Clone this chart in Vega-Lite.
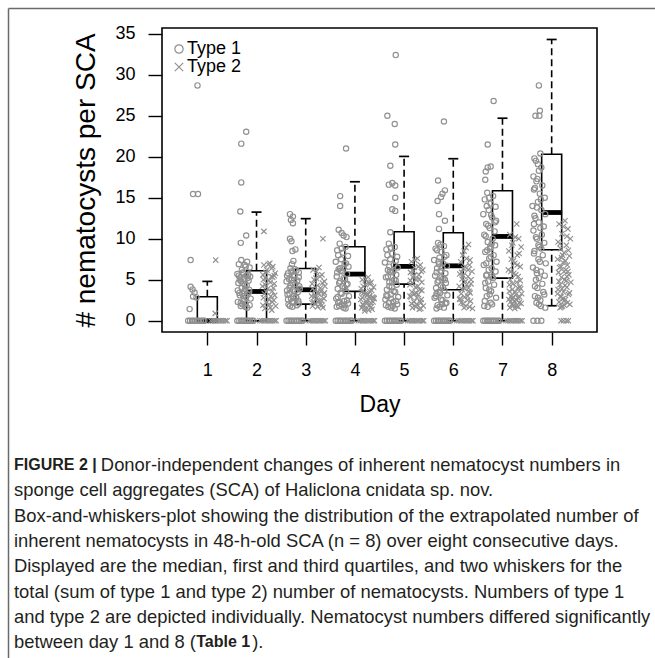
{
  "$schema": "https://vega.github.io/schema/vega-lite/v6.json",
  "width": 435,
  "height": 304,
  "autosize": {"type": "none"},
  "padding": {"left": 162, "top": 28, "right": 58, "bottom": 326},
  "background": "white",
  "title": {
    "text": ["FIGURE 2 |", "\u200b\u00a0\u00a0\u00a0\u00a0\u00a0\u00a0\u00a0\u00a0\u00a0\u00a0\u00a0\u00a0\u00a0\u00a0\u00a0\u00a0\u00a0\u00a0\u00a0\u00a0\u00a0\u00a0\u00a0\u00a0\u00a0\u00a0\u00a0\u00a0\u00a0\u00a0\u00a0\u00a0\u00a0\u00a0\u00a0\u00a0\u00a0\u00a0\u00a0\u00a0\u00a0Table 1"],
    "subtitle": [
      "\u200b\u00a0\u00a0\u00a0\u00a0\u00a0\u00a0\u00a0\u00a0\u00a0\u00a0\u00a0\u00a0\u00a0\u00a0\u00a0\u00a0\u00a0Donor-independent changes of inherent nematocyst numbers in",
      "sponge cell aggregates (SCA) of Haliclona cnidata sp. nov.",
      "Box-and-whiskers-plot showing the distribution of the extrapolated number of",
      "inherent nematocysts in 48-h-old SCA (n = 8) over eight consecutive days.",
      "Displayed are the median, first and third quartiles, and two whiskers for the",
      "total (sum of type 1 and type 2) number of nematocysts. Numbers of type 1",
      "and type 2 are depicted individually. Nematocyst numbers differed significantly",
      "between day 1 and 8 (\u00a0\u00a0\u00a0\u00a0\u00a0\u00a0\u00a0\u00a0\u00a0\u00a0\u00a0)."
    ],
    "orient": "bottom",
    "anchor": "start",
    "frame": "group",
    "baseline": "top",
    "dx": -148,
    "offset": -221,
    "font": "Liberation Sans",
    "fontSize": 16,
    "fontWeight": "bold",
    "color": "#231f20",
    "lineHeight": 177.1,
    "subtitleFont": "Liberation Sans",
    "subtitleFontSize": 18.4,
    "subtitleFontWeight": "normal",
    "subtitleColor": "#231f20",
    "subtitleLineHeight": 25.3,
    "subtitlePadding": -194
  },
  "config": {
    "font": "Liberation Sans",
    "view": {"stroke": "black", "strokeWidth": 1.6},
    "axis": {"grid": false, "domain": false, "tickColor": "black", "tickWidth": 1.4, "labelColor": "black", "titleColor": "black", "labelFont": "Liberation Sans", "titleFont": "Liberation Sans", "titleFontWeight": "normal"},
    "axisX": {"tickSize": 13, "labelFontSize": 18, "labelPadding": 16, "titleFontSize": 23, "titlePadding": 14},
    "axisY": {"tickSize": 14, "labelFontSize": 18, "labelPadding": 13, "titleFontSize": 28, "titlePadding": 14}
  },
  "datasets": {
    "box": [
      {"day": 1, "lo": 0, "q1": 0, "med": 0, "q3": 2.93, "hi": 4.8},
      {"day": 2, "lo": 0, "q1": 0, "med": 3.57, "q3": 6.1, "hi": 13.25},
      {"day": 3, "lo": 0, "q1": 2.03, "med": 3.78, "q3": 6.38, "hi": 12.45},
      {"day": 4, "lo": 0, "q1": 3.58, "med": 5.69, "q3": 9.02, "hi": 16.95},
      {"day": 5, "lo": 0, "q1": 4.47, "med": 6.63, "q3": 10.85, "hi": 20.04},
      {"day": 6, "lo": 0, "q1": 3.78, "med": 6.7, "q3": 10.73, "hi": 19.76},
      {"day": 7, "lo": 0, "q1": 5.2, "med": 10.28, "q3": 15.85, "hi": 24.7},
      {"day": 8, "lo": 1.83, "q1": 8.66, "med": 13.2, "q3": 20.3, "hi": 34.3}
    ],
    "pts": [
      {"t":"Type 1","x":0.8,"v":28.7},{"t":"Type 1","x":0.71,"v":15.45},{"t":"Type 1","x":0.81,"v":15.45},{"t":"Type 1","x":0.66,"v":7.4},{"t":"Type 1","x":0.66,"v":4.15},{"t":"Type 1","x":0.7,"v":3.82},{"t":"Type 1","x":0.74,"v":3.45},{"t":"Type 1","x":0.71,"v":2.97},{"t":"Type 1","x":0.78,"v":2.85},{"t":"Type 1","x":0.64,"v":1.42},
      {"t":"Type 1","x":0.61,"v":0},{"t":"Type 1","x":0.65,"v":0},{"t":"Type 1","x":0.69,"v":0},{"t":"Type 1","x":0.72,"v":0},{"t":"Type 1","x":0.76,"v":0},{"t":"Type 1","x":0.8,"v":0},{"t":"Type 1","x":0.83,"v":0},{"t":"Type 1","x":0.87,"v":0},{"t":"Type 1","x":0.91,"v":0},{"t":"Type 1","x":0.94,"v":0},
      {"t":"Type 2","x":1.17,"v":7.4},{"t":"Type 2","x":1.16,"v":0.9},
      {"t":"Type 2","x":1.07,"v":0},{"t":"Type 2","x":1.11,"v":0},{"t":"Type 2","x":1.15,"v":0},{"t":"Type 2","x":1.18,"v":0},{"t":"Type 2","x":1.22,"v":0},{"t":"Type 2","x":1.26,"v":0},{"t":"Type 2","x":1.29,"v":0},{"t":"Type 2","x":1.33,"v":0},{"t":"Type 2","x":1.37,"v":0},{"t":"Type 2","x":1.4,"v":0},

      {"t":"Type 1","x":1.79,"v":23.05},{"t":"Type 1","x":1.69,"v":21.6},{"t":"Type 1","x":1.69,"v":16.87},{"t":"Type 1","x":1.67,"v":13.33},{"t":"Type 1","x":1.79,"v":10.4},{"t":"Type 1","x":1.68,"v":9.5},
      {"t":"Type 1","x":1.69,"v":7.4},{"t":"Type 1","x":1.81,"v":7.2},{"t":"Type 1","x":1.64,"v":6.9},{"t":"Type 1","x":1.76,"v":6.8},{"t":"Type 1","x":1.86,"v":6.5},{"t":"Type 1","x":1.72,"v":5.9},{"t":"Type 1","x":1.61,"v":5.7},{"t":"Type 1","x":1.79,"v":5.5},{"t":"Type 1","x":1.87,"v":5.4},{"t":"Type 1","x":1.67,"v":5.3},{"t":"Type 1","x":1.74,"v":5.1},{"t":"Type 1","x":1.84,"v":4.9},{"t":"Type 1","x":1.63,"v":4.6},{"t":"Type 1","x":1.8,"v":4.3},{"t":"Type 1","x":1.7,"v":4.0},{"t":"Type 1","x":1.85,"v":3.8},{"t":"Type 1","x":1.75,"v":3.6},{"t":"Type 1","x":1.65,"v":3.4},{"t":"Type 1","x":1.82,"v":3.2},{"t":"Type 1","x":1.73,"v":3.0},{"t":"Type 1","x":1.88,"v":2.7},{"t":"Type 1","x":1.62,"v":2.3},{"t":"Type 1","x":1.78,"v":2.1},{"t":"Type 1","x":1.86,"v":1.9},{"t":"Type 1","x":1.68,"v":1.8},{"t":"Type 1","x":1.81,"v":1.6},{"t":"Type 1","x":1.71,"v":2.0},{"t":"Type 1","x":1.83,"v":5.6},{"t":"Type 1","x":1.66,"v":5.0},{"t":"Type 1","x":1.77,"v":3.9},
      {"t":"Type 1","x":1.73,"v":5.8},{"t":"Type 1","x":1.64,"v":5.5},{"t":"Type 1","x":1.82,"v":5.2},{"t":"Type 1","x":1.69,"v":4.8},{"t":"Type 1","x":1.76,"v":4.4},{"t":"Type 1","x":1.62,"v":3.7},{"t":"Type 1","x":1.85,"v":3.5},{"t":"Type 1","x":1.71,"v":3.3},{"t":"Type 1","x":1.66,"v":3.1},{"t":"Type 1","x":1.79,"v":2.9},{"t":"Type 1","x":1.74,"v":2.5},{"t":"Type 1","x":1.68,"v":2.2},{"t":"Type 1","x":1.77,"v":1.7},{"t":"Type 1","x":1.7,"v":6.2},{"t":"Type 1","x":1.78,"v":6.6},
      {"t":"Type 1","x":1.61,"v":0},{"t":"Type 1","x":1.65,"v":0},{"t":"Type 1","x":1.69,"v":0},{"t":"Type 1","x":1.72,"v":0},{"t":"Type 1","x":1.76,"v":0},{"t":"Type 1","x":1.8,"v":0},{"t":"Type 1","x":1.83,"v":0},{"t":"Type 1","x":1.87,"v":0},{"t":"Type 1","x":1.91,"v":0},{"t":"Type 1","x":1.94,"v":0},
      {"t":"Type 2","x":2.15,"v":10.9},
      {"t":"Type 2","x":2.27,"v":7.0},{"t":"Type 2","x":2.15,"v":6.8},{"t":"Type 2","x":2.33,"v":6.6},{"t":"Type 2","x":2.21,"v":6.2},{"t":"Type 2","x":2.38,"v":5.8},{"t":"Type 2","x":2.13,"v":5.6},{"t":"Type 2","x":2.3,"v":5.4},{"t":"Type 2","x":2.18,"v":5.2},{"t":"Type 2","x":2.25,"v":4.9},{"t":"Type 2","x":2.36,"v":4.5},{"t":"Type 2","x":2.12,"v":4.2},{"t":"Type 2","x":2.23,"v":3.9},{"t":"Type 2","x":2.32,"v":3.6},{"t":"Type 2","x":2.16,"v":3.3},{"t":"Type 2","x":2.29,"v":3.0},{"t":"Type 2","x":2.14,"v":2.8},{"t":"Type 2","x":2.35,"v":2.5},{"t":"Type 2","x":2.2,"v":2.2},{"t":"Type 2","x":2.26,"v":2.0},{"t":"Type 2","x":2.39,"v":1.8},{"t":"Type 2","x":2.17,"v":1.5},{"t":"Type 2","x":2.31,"v":1.3},
      {"t":"Type 2","x":2.24,"v":6.9},{"t":"Type 2","x":2.31,"v":6.4},{"t":"Type 2","x":2.19,"v":5.9},{"t":"Type 2","x":2.36,"v":5.5},{"t":"Type 2","x":2.14,"v":5.0},{"t":"Type 2","x":2.28,"v":4.7},{"t":"Type 2","x":2.34,"v":4.0},{"t":"Type 2","x":2.2,"v":3.5},{"t":"Type 2","x":2.37,"v":3.1},{"t":"Type 2","x":2.25,"v":2.6},{"t":"Type 2","x":2.32,"v":2.3},{"t":"Type 2","x":2.13,"v":1.9},{"t":"Type 2","x":2.28,"v":1.6},{"t":"Type 2","x":2.18,"v":4.4},{"t":"Type 2","x":2.33,"v":5.3},
      {"t":"Type 2","x":2.07,"v":0},{"t":"Type 2","x":2.11,"v":0},{"t":"Type 2","x":2.15,"v":0},{"t":"Type 2","x":2.18,"v":0},{"t":"Type 2","x":2.22,"v":0},{"t":"Type 2","x":2.26,"v":0},{"t":"Type 2","x":2.29,"v":0},{"t":"Type 2","x":2.33,"v":0},{"t":"Type 2","x":2.37,"v":0},{"t":"Type 2","x":2.4,"v":0},

      {"t":"Type 1","x":2.68,"v":13.0},{"t":"Type 1","x":2.74,"v":12.7},{"t":"Type 1","x":2.7,"v":12.3},{"t":"Type 1","x":2.74,"v":11.9},{"t":"Type 1","x":2.68,"v":10.0},{"t":"Type 1","x":2.71,"v":9.7},{"t":"Type 1","x":2.79,"v":8.7},{"t":"Type 1","x":2.73,"v":8.5},{"t":"Type 1","x":2.75,"v":7.3},{"t":"Type 1","x":2.72,"v":6.9},
      {"t":"Type 1","x":2.69,"v":6.4},{"t":"Type 1","x":2.81,"v":6.1},{"t":"Type 1","x":2.64,"v":5.8},{"t":"Type 1","x":2.76,"v":5.6},{"t":"Type 1","x":2.86,"v":5.3},{"t":"Type 1","x":2.72,"v":5.0},{"t":"Type 1","x":2.61,"v":4.8},{"t":"Type 1","x":2.79,"v":4.5},{"t":"Type 1","x":2.87,"v":4.2},{"t":"Type 1","x":2.67,"v":4.0},{"t":"Type 1","x":2.74,"v":3.8},{"t":"Type 1","x":2.84,"v":3.5},{"t":"Type 1","x":2.63,"v":3.2},{"t":"Type 1","x":2.8,"v":2.9},{"t":"Type 1","x":2.7,"v":2.7},{"t":"Type 1","x":2.85,"v":2.4},{"t":"Type 1","x":2.75,"v":2.2},{"t":"Type 1","x":2.65,"v":2.0},{"t":"Type 1","x":2.82,"v":1.9},{"t":"Type 1","x":2.73,"v":1.7},{"t":"Type 1","x":2.88,"v":3.9},{"t":"Type 1","x":2.62,"v":5.5},{"t":"Type 1","x":2.78,"v":6.3},{"t":"Type 1","x":2.86,"v":2.1},
      {"t":"Type 1","x":2.71,"v":6.0},{"t":"Type 1","x":2.77,"v":5.4},{"t":"Type 1","x":2.66,"v":5.1},{"t":"Type 1","x":2.73,"v":4.6},{"t":"Type 1","x":2.69,"v":4.3},{"t":"Type 1","x":2.78,"v":3.6},{"t":"Type 1","x":2.67,"v":3.3},{"t":"Type 1","x":2.75,"v":3.0},{"t":"Type 1","x":2.64,"v":2.6},{"t":"Type 1","x":2.72,"v":2.3},{"t":"Type 1","x":2.68,"v":1.8},{"t":"Type 1","x":2.83,"v":4.9},{"t":"Type 1","x":2.86,"v":5.9},{"t":"Type 1","x":2.81,"v":2.8},{"t":"Type 1","x":2.62,"v":3.7},
      {"t":"Type 1","x":2.61,"v":0},{"t":"Type 1","x":2.65,"v":0},{"t":"Type 1","x":2.69,"v":0},{"t":"Type 1","x":2.72,"v":0},{"t":"Type 1","x":2.76,"v":0},{"t":"Type 1","x":2.8,"v":0},{"t":"Type 1","x":2.83,"v":0},{"t":"Type 1","x":2.87,"v":0},{"t":"Type 1","x":2.91,"v":0},{"t":"Type 1","x":2.94,"v":0},
      {"t":"Type 2","x":3.35,"v":10.0},
      {"t":"Type 2","x":3.27,"v":6.5},{"t":"Type 2","x":3.15,"v":6.2},{"t":"Type 2","x":3.33,"v":5.6},{"t":"Type 2","x":3.21,"v":5.2},{"t":"Type 2","x":3.38,"v":4.8},{"t":"Type 2","x":3.13,"v":4.5},{"t":"Type 2","x":3.3,"v":4.0},{"t":"Type 2","x":3.18,"v":3.7},{"t":"Type 2","x":3.25,"v":3.5},{"t":"Type 2","x":3.36,"v":3.2},{"t":"Type 2","x":3.12,"v":3.0},{"t":"Type 2","x":3.23,"v":2.8},{"t":"Type 2","x":3.32,"v":2.5},{"t":"Type 2","x":3.16,"v":2.3},{"t":"Type 2","x":3.29,"v":2.0},{"t":"Type 2","x":3.14,"v":1.8},{"t":"Type 2","x":3.35,"v":1.6},{"t":"Type 2","x":3.2,"v":2.1},{"t":"Type 2","x":3.26,"v":3.3},{"t":"Type 2","x":3.39,"v":4.2},
      {"t":"Type 2","x":3.22,"v":6.0},{"t":"Type 2","x":3.29,"v":5.4},{"t":"Type 2","x":3.17,"v":5.0},{"t":"Type 2","x":3.34,"v":4.6},{"t":"Type 2","x":3.24,"v":4.3},{"t":"Type 2","x":3.14,"v":3.9},{"t":"Type 2","x":3.31,"v":3.6},{"t":"Type 2","x":3.19,"v":3.1},{"t":"Type 2","x":3.37,"v":2.7},{"t":"Type 2","x":3.27,"v":2.4},{"t":"Type 2","x":3.13,"v":2.2},{"t":"Type 2","x":3.33,"v":1.9},{"t":"Type 2","x":3.24,"v":1.7},{"t":"Type 2","x":3.18,"v":2.9},{"t":"Type 2","x":3.38,"v":3.4},
      {"t":"Type 2","x":3.07,"v":0},{"t":"Type 2","x":3.11,"v":0},{"t":"Type 2","x":3.15,"v":0},{"t":"Type 2","x":3.18,"v":0},{"t":"Type 2","x":3.22,"v":0},{"t":"Type 2","x":3.26,"v":0},{"t":"Type 2","x":3.29,"v":0},{"t":"Type 2","x":3.33,"v":0},{"t":"Type 2","x":3.37,"v":0},{"t":"Type 2","x":3.4,"v":0},

      {"t":"Type 1","x":3.82,"v":21.0},{"t":"Type 1","x":3.7,"v":15.2},{"t":"Type 1","x":3.7,"v":14.0},{"t":"Type 1","x":3.67,"v":11.1},{"t":"Type 1","x":3.73,"v":10.7},{"t":"Type 1","x":3.77,"v":10.4},{"t":"Type 1","x":3.83,"v":10.2},
      {"t":"Type 1","x":3.69,"v":9.4},{"t":"Type 1","x":3.81,"v":9.0},{"t":"Type 1","x":3.64,"v":8.6},{"t":"Type 1","x":3.76,"v":8.3},{"t":"Type 1","x":3.86,"v":7.9},{"t":"Type 1","x":3.72,"v":7.5},{"t":"Type 1","x":3.61,"v":7.2},{"t":"Type 1","x":3.79,"v":6.9},{"t":"Type 1","x":3.87,"v":6.6},{"t":"Type 1","x":3.67,"v":6.3},{"t":"Type 1","x":3.74,"v":6.0},{"t":"Type 1","x":3.84,"v":5.7},{"t":"Type 1","x":3.63,"v":5.4},{"t":"Type 1","x":3.8,"v":5.1},{"t":"Type 1","x":3.7,"v":4.8},{"t":"Type 1","x":3.85,"v":4.5},{"t":"Type 1","x":3.75,"v":4.2},{"t":"Type 1","x":3.65,"v":3.9},{"t":"Type 1","x":3.82,"v":3.6},{"t":"Type 1","x":3.73,"v":3.3},{"t":"Type 1","x":3.88,"v":3.0},{"t":"Type 1","x":3.62,"v":2.7},{"t":"Type 1","x":3.78,"v":2.4},{"t":"Type 1","x":3.86,"v":2.1},{"t":"Type 1","x":3.68,"v":1.8},{"t":"Type 1","x":3.81,"v":1.5},{"t":"Type 1","x":3.71,"v":6.1},{"t":"Type 1","x":3.83,"v":4.4},{"t":"Type 1","x":3.66,"v":2.2},{"t":"Type 1","x":3.77,"v":1.6},
      {"t":"Type 1","x":3.73,"v":8.8},{"t":"Type 1","x":3.66,"v":8.0},{"t":"Type 1","x":3.82,"v":7.0},{"t":"Type 1","x":3.7,"v":6.4},{"t":"Type 1","x":3.64,"v":5.9},{"t":"Type 1","x":3.77,"v":5.2},{"t":"Type 1","x":3.68,"v":4.6},{"t":"Type 1","x":3.79,"v":4.0},{"t":"Type 1","x":3.71,"v":3.4},{"t":"Type 1","x":3.65,"v":2.9},{"t":"Type 1","x":3.84,"v":2.5},{"t":"Type 1","x":3.73,"v":2.0},{"t":"Type 1","x":3.63,"v":1.7},{"t":"Type 1","x":3.79,"v":1.9},{"t":"Type 1","x":3.69,"v":2.3},
      {"t":"Type 1","x":3.61,"v":0},{"t":"Type 1","x":3.65,"v":0},{"t":"Type 1","x":3.69,"v":0},{"t":"Type 1","x":3.72,"v":0},{"t":"Type 1","x":3.76,"v":0},{"t":"Type 1","x":3.8,"v":0},{"t":"Type 1","x":3.83,"v":0},{"t":"Type 1","x":3.87,"v":0},{"t":"Type 1","x":3.91,"v":0},{"t":"Type 1","x":3.94,"v":0},
      {"t":"Type 2","x":4.27,"v":5.3},{"t":"Type 2","x":4.15,"v":5.0},{"t":"Type 2","x":4.33,"v":4.7},{"t":"Type 2","x":4.21,"v":4.4},{"t":"Type 2","x":4.38,"v":4.1},{"t":"Type 2","x":4.13,"v":3.9},{"t":"Type 2","x":4.3,"v":3.6},{"t":"Type 2","x":4.18,"v":3.4},{"t":"Type 2","x":4.25,"v":3.1},{"t":"Type 2","x":4.36,"v":2.9},{"t":"Type 2","x":4.12,"v":2.6},{"t":"Type 2","x":4.23,"v":2.4},{"t":"Type 2","x":4.32,"v":2.2},{"t":"Type 2","x":4.16,"v":2.0},{"t":"Type 2","x":4.29,"v":1.8},{"t":"Type 2","x":4.14,"v":1.6},{"t":"Type 2","x":4.35,"v":1.4},{"t":"Type 2","x":4.2,"v":1.2},{"t":"Type 2","x":4.26,"v":3.2},{"t":"Type 2","x":4.39,"v":2.7},{"t":"Type 2","x":4.17,"v":1.9},{"t":"Type 2","x":4.31,"v":4.5},
      {"t":"Type 2","x":4.22,"v":5.1},{"t":"Type 2","x":4.28,"v":4.6},{"t":"Type 2","x":4.17,"v":4.2},{"t":"Type 2","x":4.34,"v":3.7},{"t":"Type 2","x":4.21,"v":3.3},{"t":"Type 2","x":4.3,"v":3.0},{"t":"Type 2","x":4.15,"v":2.8},{"t":"Type 2","x":4.27,"v":2.5},{"t":"Type 2","x":4.37,"v":2.3},{"t":"Type 2","x":4.24,"v":2.1},{"t":"Type 2","x":4.33,"v":1.7},{"t":"Type 2","x":4.2,"v":1.5},{"t":"Type 2","x":4.28,"v":1.3},{"t":"Type 2","x":4.14,"v":3.5},{"t":"Type 2","x":4.38,"v":2.8},
      {"t":"Type 2","x":4.07,"v":0},{"t":"Type 2","x":4.11,"v":0},{"t":"Type 2","x":4.15,"v":0},{"t":"Type 2","x":4.18,"v":0},{"t":"Type 2","x":4.22,"v":0},{"t":"Type 2","x":4.26,"v":0},{"t":"Type 2","x":4.29,"v":0},{"t":"Type 2","x":4.33,"v":0},{"t":"Type 2","x":4.37,"v":0},{"t":"Type 2","x":4.4,"v":0},

      {"t":"Type 1","x":4.83,"v":32.4},{"t":"Type 1","x":4.66,"v":25.0},{"t":"Type 1","x":4.81,"v":24.0},{"t":"Type 1","x":4.82,"v":21.5},{"t":"Type 1","x":4.72,"v":18.9},{"t":"Type 1","x":4.69,"v":16.6},{"t":"Type 1","x":4.76,"v":16.8},{"t":"Type 1","x":4.82,"v":16.5},{"t":"Type 1","x":4.82,"v":15.0},{"t":"Type 1","x":4.76,"v":13.6},{"t":"Type 1","x":4.82,"v":13.4},{"t":"Type 1","x":4.72,"v":10.8},
      {"t":"Type 1","x":4.69,"v":9.4},{"t":"Type 1","x":4.81,"v":9.0},{"t":"Type 1","x":4.64,"v":8.7},{"t":"Type 1","x":4.76,"v":8.2},{"t":"Type 1","x":4.86,"v":7.8},{"t":"Type 1","x":4.72,"v":7.5},{"t":"Type 1","x":4.61,"v":7.1},{"t":"Type 1","x":4.79,"v":6.8},{"t":"Type 1","x":4.87,"v":6.5},{"t":"Type 1","x":4.67,"v":6.2},{"t":"Type 1","x":4.74,"v":5.9},{"t":"Type 1","x":4.84,"v":5.6},{"t":"Type 1","x":4.63,"v":5.3},{"t":"Type 1","x":4.8,"v":5.0},{"t":"Type 1","x":4.7,"v":4.7},{"t":"Type 1","x":4.85,"v":4.4},{"t":"Type 1","x":4.75,"v":4.1},{"t":"Type 1","x":4.65,"v":3.8},{"t":"Type 1","x":4.82,"v":3.5},{"t":"Type 1","x":4.73,"v":3.2},{"t":"Type 1","x":4.88,"v":2.9},{"t":"Type 1","x":4.62,"v":2.6},{"t":"Type 1","x":4.78,"v":2.3},{"t":"Type 1","x":4.86,"v":2.0},{"t":"Type 1","x":4.68,"v":1.7},{"t":"Type 1","x":4.81,"v":1.5},{"t":"Type 1","x":4.71,"v":6.0},{"t":"Type 1","x":4.83,"v":4.9},{"t":"Type 1","x":4.66,"v":3.0},{"t":"Type 1","x":4.77,"v":1.8},
      {"t":"Type 1","x":4.73,"v":8.9},{"t":"Type 1","x":4.66,"v":8.0},{"t":"Type 1","x":4.83,"v":7.3},{"t":"Type 1","x":4.7,"v":6.6},{"t":"Type 1","x":4.78,"v":6.0},{"t":"Type 1","x":4.67,"v":5.4},{"t":"Type 1","x":4.76,"v":4.8},{"t":"Type 1","x":4.7,"v":4.2},{"t":"Type 1","x":4.79,"v":3.6},{"t":"Type 1","x":4.64,"v":3.1},{"t":"Type 1","x":4.73,"v":2.7},{"t":"Type 1","x":4.69,"v":2.2},{"t":"Type 1","x":4.74,"v":1.6},{"t":"Type 1","x":4.63,"v":1.9},{"t":"Type 1","x":4.84,"v":2.4},
      {"t":"Type 1","x":4.61,"v":0},{"t":"Type 1","x":4.65,"v":0},{"t":"Type 1","x":4.69,"v":0},{"t":"Type 1","x":4.72,"v":0},{"t":"Type 1","x":4.76,"v":0},{"t":"Type 1","x":4.8,"v":0},{"t":"Type 1","x":4.83,"v":0},{"t":"Type 1","x":4.87,"v":0},{"t":"Type 1","x":4.91,"v":0},{"t":"Type 1","x":4.94,"v":0},
      {"t":"Type 2","x":5.27,"v":7.6},{"t":"Type 2","x":5.15,"v":7.2},{"t":"Type 2","x":5.33,"v":6.8},{"t":"Type 2","x":5.21,"v":6.5},{"t":"Type 2","x":5.38,"v":6.2},{"t":"Type 2","x":5.13,"v":5.9},{"t":"Type 2","x":5.3,"v":5.6},{"t":"Type 2","x":5.18,"v":5.3},{"t":"Type 2","x":5.25,"v":5.0},{"t":"Type 2","x":5.36,"v":4.7},{"t":"Type 2","x":5.12,"v":4.4},{"t":"Type 2","x":5.23,"v":4.1},{"t":"Type 2","x":5.32,"v":3.8},{"t":"Type 2","x":5.16,"v":3.5},{"t":"Type 2","x":5.29,"v":3.2},{"t":"Type 2","x":5.14,"v":2.9},{"t":"Type 2","x":5.35,"v":2.6},{"t":"Type 2","x":5.2,"v":2.3},{"t":"Type 2","x":5.26,"v":2.0},{"t":"Type 2","x":5.39,"v":1.8},{"t":"Type 2","x":5.17,"v":1.6},{"t":"Type 2","x":5.31,"v":1.4},{"t":"Type 2","x":5.13,"v":4.9},{"t":"Type 2","x":5.24,"v":3.4},{"t":"Type 2","x":5.34,"v":2.2},{"t":"Type 2","x":5.19,"v":6.0},
      {"t":"Type 2","x":5.22,"v":7.4},{"t":"Type 2","x":5.29,"v":6.6},{"t":"Type 2","x":5.35,"v":6.0},{"t":"Type 2","x":5.2,"v":5.5},{"t":"Type 2","x":5.31,"v":5.1},{"t":"Type 2","x":5.17,"v":4.6},{"t":"Type 2","x":5.28,"v":4.2},{"t":"Type 2","x":5.36,"v":3.7},{"t":"Type 2","x":5.21,"v":3.3},{"t":"Type 2","x":5.26,"v":2.8},{"t":"Type 2","x":5.32,"v":2.4},{"t":"Type 2","x":5.15,"v":2.1},{"t":"Type 2","x":5.24,"v":1.7},{"t":"Type 2","x":5.34,"v":1.5},{"t":"Type 2","x":5.12,"v":3.0},
      {"t":"Type 2","x":5.07,"v":0},{"t":"Type 2","x":5.11,"v":0},{"t":"Type 2","x":5.15,"v":0},{"t":"Type 2","x":5.18,"v":0},{"t":"Type 2","x":5.22,"v":0},{"t":"Type 2","x":5.26,"v":0},{"t":"Type 2","x":5.29,"v":0},{"t":"Type 2","x":5.33,"v":0},{"t":"Type 2","x":5.37,"v":0},{"t":"Type 2","x":5.4,"v":0},

      {"t":"Type 1","x":5.81,"v":24.3},{"t":"Type 1","x":5.69,"v":17.1},{"t":"Type 1","x":5.83,"v":15.9},{"t":"Type 1","x":5.78,"v":15.5},{"t":"Type 1","x":5.75,"v":15.1},{"t":"Type 1","x":5.68,"v":14.6},{"t":"Type 1","x":5.71,"v":13.0},{"t":"Type 1","x":5.83,"v":12.2},{"t":"Type 1","x":5.71,"v":11.2},
      {"t":"Type 1","x":5.69,"v":9.5},{"t":"Type 1","x":5.81,"v":9.1},{"t":"Type 1","x":5.64,"v":8.8},{"t":"Type 1","x":5.76,"v":8.4},{"t":"Type 1","x":5.86,"v":8.0},{"t":"Type 1","x":5.72,"v":7.7},{"t":"Type 1","x":5.61,"v":7.4},{"t":"Type 1","x":5.79,"v":7.0},{"t":"Type 1","x":5.87,"v":6.7},{"t":"Type 1","x":5.67,"v":6.4},{"t":"Type 1","x":5.74,"v":6.1},{"t":"Type 1","x":5.84,"v":5.8},{"t":"Type 1","x":5.63,"v":5.5},{"t":"Type 1","x":5.8,"v":5.2},{"t":"Type 1","x":5.7,"v":4.9},{"t":"Type 1","x":5.85,"v":4.6},{"t":"Type 1","x":5.75,"v":4.3},{"t":"Type 1","x":5.65,"v":4.0},{"t":"Type 1","x":5.82,"v":3.7},{"t":"Type 1","x":5.73,"v":3.4},{"t":"Type 1","x":5.88,"v":3.1},{"t":"Type 1","x":5.62,"v":2.8},{"t":"Type 1","x":5.78,"v":2.5},{"t":"Type 1","x":5.86,"v":2.2},{"t":"Type 1","x":5.68,"v":1.9},{"t":"Type 1","x":5.81,"v":1.6},{"t":"Type 1","x":5.71,"v":6.9},{"t":"Type 1","x":5.83,"v":5.0},{"t":"Type 1","x":5.66,"v":3.3},{"t":"Type 1","x":5.77,"v":2.0},
      {"t":"Type 1","x":5.74,"v":9.3},{"t":"Type 1","x":5.67,"v":8.6},{"t":"Type 1","x":5.82,"v":7.8},{"t":"Type 1","x":5.7,"v":7.2},{"t":"Type 1","x":5.77,"v":6.5},{"t":"Type 1","x":5.66,"v":5.9},{"t":"Type 1","x":5.76,"v":5.3},{"t":"Type 1","x":5.68,"v":4.7},{"t":"Type 1","x":5.79,"v":4.1},{"t":"Type 1","x":5.7,"v":3.5},{"t":"Type 1","x":5.65,"v":3.0},{"t":"Type 1","x":5.75,"v":2.6},{"t":"Type 1","x":5.84,"v":2.1},{"t":"Type 1","x":5.72,"v":1.7},{"t":"Type 1","x":5.66,"v":1.5},
      {"t":"Type 1","x":5.61,"v":0},{"t":"Type 1","x":5.65,"v":0},{"t":"Type 1","x":5.69,"v":0},{"t":"Type 1","x":5.72,"v":0},{"t":"Type 1","x":5.76,"v":0},{"t":"Type 1","x":5.8,"v":0},{"t":"Type 1","x":5.83,"v":0},{"t":"Type 1","x":5.87,"v":0},{"t":"Type 1","x":5.91,"v":0},{"t":"Type 1","x":5.94,"v":0},
      {"t":"Type 2","x":6.31,"v":9.3},{"t":"Type 2","x":6.22,"v":8.5},{"t":"Type 2","x":6.27,"v":7.6},{"t":"Type 2","x":6.15,"v":7.2},{"t":"Type 2","x":6.33,"v":6.8},{"t":"Type 2","x":6.21,"v":6.4},{"t":"Type 2","x":6.38,"v":6.0},{"t":"Type 2","x":6.13,"v":5.7},{"t":"Type 2","x":6.3,"v":5.4},{"t":"Type 2","x":6.18,"v":5.1},{"t":"Type 2","x":6.25,"v":4.8},{"t":"Type 2","x":6.36,"v":4.5},{"t":"Type 2","x":6.12,"v":4.2},{"t":"Type 2","x":6.23,"v":3.9},{"t":"Type 2","x":6.32,"v":3.6},{"t":"Type 2","x":6.16,"v":3.3},{"t":"Type 2","x":6.29,"v":3.0},{"t":"Type 2","x":6.14,"v":2.7},{"t":"Type 2","x":6.35,"v":2.4},{"t":"Type 2","x":6.2,"v":2.1},{"t":"Type 2","x":6.26,"v":1.8},{"t":"Type 2","x":6.39,"v":1.5},{"t":"Type 2","x":6.17,"v":5.9},{"t":"Type 2","x":6.31,"v":4.0},{"t":"Type 2","x":6.13,"v":2.6},
      {"t":"Type 2","x":6.26,"v":8.9},{"t":"Type 2","x":6.19,"v":8.0},{"t":"Type 2","x":6.34,"v":7.4},{"t":"Type 2","x":6.24,"v":6.6},{"t":"Type 2","x":6.3,"v":6.2},{"t":"Type 2","x":6.2,"v":5.5},{"t":"Type 2","x":6.36,"v":5.0},{"t":"Type 2","x":6.27,"v":4.4},{"t":"Type 2","x":6.18,"v":3.8},{"t":"Type 2","x":6.34,"v":3.4},{"t":"Type 2","x":6.23,"v":2.9},{"t":"Type 2","x":6.29,"v":2.5},{"t":"Type 2","x":6.16,"v":2.2},{"t":"Type 2","x":6.33,"v":1.7},{"t":"Type 2","x":6.22,"v":1.6},
      {"t":"Type 2","x":6.07,"v":0},{"t":"Type 2","x":6.11,"v":0},{"t":"Type 2","x":6.15,"v":0},{"t":"Type 2","x":6.18,"v":0},{"t":"Type 2","x":6.22,"v":0},{"t":"Type 2","x":6.26,"v":0},{"t":"Type 2","x":6.29,"v":0},{"t":"Type 2","x":6.33,"v":0},{"t":"Type 2","x":6.37,"v":0},{"t":"Type 2","x":6.4,"v":0},

      {"t":"Type 1","x":6.82,"v":26.8},{"t":"Type 1","x":6.7,"v":21.5},{"t":"Type 1","x":6.76,"v":18.8},{"t":"Type 1","x":6.7,"v":18.7},{"t":"Type 1","x":6.66,"v":18.2},{"t":"Type 1","x":6.65,"v":17.2},
      {"t":"Type 1","x":6.69,"v":15.6},{"t":"Type 1","x":6.81,"v":15.2},{"t":"Type 1","x":6.64,"v":14.8},{"t":"Type 1","x":6.76,"v":14.3},{"t":"Type 1","x":6.86,"v":13.9},{"t":"Type 1","x":6.72,"v":13.5},{"t":"Type 1","x":6.61,"v":13.0},{"t":"Type 1","x":6.79,"v":12.6},{"t":"Type 1","x":6.87,"v":12.2},{"t":"Type 1","x":6.67,"v":11.8},{"t":"Type 1","x":6.74,"v":11.3},{"t":"Type 1","x":6.84,"v":10.9},{"t":"Type 1","x":6.63,"v":10.5},{"t":"Type 1","x":6.8,"v":10.0},{"t":"Type 1","x":6.7,"v":9.6},{"t":"Type 1","x":6.85,"v":9.2},{"t":"Type 1","x":6.75,"v":8.8},{"t":"Type 1","x":6.65,"v":8.4},{"t":"Type 1","x":6.82,"v":8.0},{"t":"Type 1","x":6.73,"v":7.6},{"t":"Type 1","x":6.88,"v":7.2},{"t":"Type 1","x":6.62,"v":6.8},{"t":"Type 1","x":6.78,"v":6.4},{"t":"Type 1","x":6.86,"v":6.0},{"t":"Type 1","x":6.68,"v":5.6},{"t":"Type 1","x":6.81,"v":5.2},{"t":"Type 1","x":6.71,"v":4.8},{"t":"Type 1","x":6.83,"v":4.4},{"t":"Type 1","x":6.66,"v":4.0},{"t":"Type 1","x":6.77,"v":3.6},{"t":"Type 1","x":6.74,"v":3.2},{"t":"Type 1","x":6.87,"v":2.8},{"t":"Type 1","x":6.64,"v":2.4},{"t":"Type 1","x":6.79,"v":2.0},{"t":"Type 1","x":6.7,"v":1.7},{"t":"Type 1","x":6.85,"v":12.0},{"t":"Type 1","x":6.75,"v":9.0},{"t":"Type 1","x":6.67,"v":5.5},
      {"t":"Type 1","x":6.73,"v":15.0},{"t":"Type 1","x":6.68,"v":14.0},{"t":"Type 1","x":6.77,"v":12.9},{"t":"Type 1","x":6.71,"v":11.6},{"t":"Type 1","x":6.66,"v":10.3},{"t":"Type 1","x":6.78,"v":9.4},{"t":"Type 1","x":6.69,"v":8.6},{"t":"Type 1","x":6.76,"v":7.8},{"t":"Type 1","x":6.67,"v":7.0},{"t":"Type 1","x":6.72,"v":6.2},{"t":"Type 1","x":6.79,"v":5.4},{"t":"Type 1","x":6.65,"v":4.6},{"t":"Type 1","x":6.73,"v":3.8},{"t":"Type 1","x":6.68,"v":3.0},{"t":"Type 1","x":6.76,"v":2.2},{"t":"Type 1","x":6.63,"v":1.8},
      {"t":"Type 1","x":6.61,"v":0},{"t":"Type 1","x":6.65,"v":0},{"t":"Type 1","x":6.69,"v":0},{"t":"Type 1","x":6.72,"v":0},{"t":"Type 1","x":6.76,"v":0},{"t":"Type 1","x":6.8,"v":0},{"t":"Type 1","x":6.83,"v":0},{"t":"Type 1","x":6.87,"v":0},{"t":"Type 1","x":6.91,"v":0},{"t":"Type 1","x":6.94,"v":0},
      {"t":"Type 2","x":7.29,"v":11.8},{"t":"Type 2","x":7.15,"v":10.5},{"t":"Type 2","x":7.33,"v":10.0},{"t":"Type 2","x":7.21,"v":9.5},{"t":"Type 2","x":7.38,"v":9.0},{"t":"Type 2","x":7.13,"v":8.5},{"t":"Type 2","x":7.3,"v":8.0},{"t":"Type 2","x":7.18,"v":7.5},{"t":"Type 2","x":7.25,"v":7.0},{"t":"Type 2","x":7.36,"v":6.6},{"t":"Type 2","x":7.12,"v":6.2},{"t":"Type 2","x":7.23,"v":5.8},{"t":"Type 2","x":7.32,"v":5.4},{"t":"Type 2","x":7.16,"v":5.0},{"t":"Type 2","x":7.29,"v":4.7},{"t":"Type 2","x":7.14,"v":4.4},{"t":"Type 2","x":7.35,"v":4.1},{"t":"Type 2","x":7.2,"v":3.8},{"t":"Type 2","x":7.26,"v":3.5},{"t":"Type 2","x":7.39,"v":3.3},{"t":"Type 2","x":7.17,"v":3.0},{"t":"Type 2","x":7.31,"v":2.8},{"t":"Type 2","x":7.13,"v":2.6},{"t":"Type 2","x":7.24,"v":2.4},{"t":"Type 2","x":7.34,"v":2.2},{"t":"Type 2","x":7.19,"v":2.0},{"t":"Type 2","x":7.28,"v":1.8},{"t":"Type 2","x":7.15,"v":1.6},{"t":"Type 2","x":7.37,"v":3.9},{"t":"Type 2","x":7.22,"v":2.9},
      {"t":"Type 2","x":7.26,"v":10.2},{"t":"Type 2","x":7.19,"v":9.2},{"t":"Type 2","x":7.34,"v":8.2},{"t":"Type 2","x":7.22,"v":7.3},{"t":"Type 2","x":7.3,"v":6.8},{"t":"Type 2","x":7.17,"v":6.0},{"t":"Type 2","x":7.27,"v":5.6},{"t":"Type 2","x":7.36,"v":4.9},{"t":"Type 2","x":7.21,"v":4.5},{"t":"Type 2","x":7.31,"v":4.0},{"t":"Type 2","x":7.14,"v":3.6},{"t":"Type 2","x":7.27,"v":3.2},{"t":"Type 2","x":7.35,"v":2.9},{"t":"Type 2","x":7.2,"v":2.7},{"t":"Type 2","x":7.29,"v":2.5},{"t":"Type 2","x":7.16,"v":2.3},{"t":"Type 2","x":7.38,"v":2.1},{"t":"Type 2","x":7.23,"v":1.9},{"t":"Type 2","x":7.32,"v":1.7},{"t":"Type 2","x":7.25,"v":1.5},
      {"t":"Type 2","x":7.07,"v":0},{"t":"Type 2","x":7.11,"v":0},{"t":"Type 2","x":7.15,"v":0},{"t":"Type 2","x":7.18,"v":0},{"t":"Type 2","x":7.22,"v":0},{"t":"Type 2","x":7.26,"v":0},{"t":"Type 2","x":7.29,"v":0},{"t":"Type 2","x":7.33,"v":0},{"t":"Type 2","x":7.37,"v":0},{"t":"Type 2","x":7.4,"v":0},

      {"t":"Type 1","x":7.74,"v":28.7},{"t":"Type 1","x":7.76,"v":25.6},{"t":"Type 1","x":7.67,"v":25.0},{"t":"Type 1","x":7.75,"v":25.0},{"t":"Type 1","x":7.77,"v":20.4},{"t":"Type 1","x":7.65,"v":19.8},{"t":"Type 1","x":7.72,"v":19.1},{"t":"Type 1","x":7.74,"v":18.3},{"t":"Type 1","x":7.63,"v":17.6},
      {"t":"Type 1","x":7.69,"v":17.0},{"t":"Type 1","x":7.81,"v":16.5},{"t":"Type 1","x":7.64,"v":16.0},{"t":"Type 1","x":7.76,"v":15.5},{"t":"Type 1","x":7.86,"v":15.0},{"t":"Type 1","x":7.72,"v":14.5},{"t":"Type 1","x":7.61,"v":14.0},{"t":"Type 1","x":7.79,"v":13.5},{"t":"Type 1","x":7.87,"v":13.0},{"t":"Type 1","x":7.67,"v":12.5},{"t":"Type 1","x":7.74,"v":12.0},{"t":"Type 1","x":7.84,"v":11.5},{"t":"Type 1","x":7.63,"v":11.0},{"t":"Type 1","x":7.8,"v":10.5},{"t":"Type 1","x":7.7,"v":10.0},{"t":"Type 1","x":7.85,"v":9.5},{"t":"Type 1","x":7.75,"v":9.0},{"t":"Type 1","x":7.65,"v":8.5},{"t":"Type 1","x":7.82,"v":8.0},{"t":"Type 1","x":7.73,"v":7.5},{"t":"Type 1","x":7.88,"v":7.0},{"t":"Type 1","x":7.62,"v":6.5},{"t":"Type 1","x":7.78,"v":6.0},{"t":"Type 1","x":7.86,"v":5.5},{"t":"Type 1","x":7.68,"v":5.0},{"t":"Type 1","x":7.81,"v":4.5},{"t":"Type 1","x":7.71,"v":4.0},{"t":"Type 1","x":7.83,"v":3.5},{"t":"Type 1","x":7.66,"v":3.0},{"t":"Type 1","x":7.77,"v":2.5},{"t":"Type 1","x":7.74,"v":2.0},{"t":"Type 1","x":7.87,"v":1.6},{"t":"Type 1","x":7.64,"v":11.8},{"t":"Type 1","x":7.79,"v":8.8},{"t":"Type 1","x":7.7,"v":5.8},{"t":"Type 1","x":7.85,"v":3.2},
      {"t":"Type 1","x":7.68,"v":19.5},{"t":"Type 1","x":7.79,"v":18.7},{"t":"Type 1","x":7.71,"v":17.3},{"t":"Type 1","x":7.66,"v":16.2},{"t":"Type 1","x":7.78,"v":14.8},{"t":"Type 1","x":7.7,"v":13.8},{"t":"Type 1","x":7.65,"v":12.8},{"t":"Type 1","x":7.77,"v":11.3},{"t":"Type 1","x":7.68,"v":10.2},{"t":"Type 1","x":7.73,"v":9.2},{"t":"Type 1","x":7.64,"v":8.2},{"t":"Type 1","x":7.76,"v":7.2},{"t":"Type 1","x":7.69,"v":6.2},{"t":"Type 1","x":7.74,"v":5.2},{"t":"Type 1","x":7.66,"v":4.2},{"t":"Type 1","x":7.72,"v":2.8},{"t":"Type 1","x":7.69,"v":2.2},{"t":"Type 1","x":7.78,"v":1.8},
      {"t":"Type 1","x":7.63,"v":0},{"t":"Type 1","x":7.71,"v":0},{"t":"Type 1","x":7.79,"v":0},
      {"t":"Type 2","x":8.27,"v":12.2},{"t":"Type 2","x":8.15,"v":11.8},{"t":"Type 2","x":8.33,"v":11.2},{"t":"Type 2","x":8.21,"v":10.6},{"t":"Type 2","x":8.38,"v":10.0},{"t":"Type 2","x":8.13,"v":9.6},{"t":"Type 2","x":8.3,"v":9.2},{"t":"Type 2","x":8.18,"v":8.8},{"t":"Type 2","x":8.25,"v":8.3},{"t":"Type 2","x":8.36,"v":7.9},{"t":"Type 2","x":8.12,"v":7.5},{"t":"Type 2","x":8.23,"v":7.1},{"t":"Type 2","x":8.32,"v":6.8},{"t":"Type 2","x":8.16,"v":6.5},{"t":"Type 2","x":8.29,"v":6.2},{"t":"Type 2","x":8.14,"v":5.9},{"t":"Type 2","x":8.35,"v":5.6},{"t":"Type 2","x":8.2,"v":5.3},{"t":"Type 2","x":8.26,"v":5.0},{"t":"Type 2","x":8.39,"v":4.7},{"t":"Type 2","x":8.17,"v":4.4},{"t":"Type 2","x":8.31,"v":4.1},{"t":"Type 2","x":8.13,"v":3.8},{"t":"Type 2","x":8.24,"v":3.5},{"t":"Type 2","x":8.34,"v":3.2},{"t":"Type 2","x":8.19,"v":2.9},{"t":"Type 2","x":8.28,"v":2.6},{"t":"Type 2","x":8.15,"v":2.3},{"t":"Type 2","x":8.37,"v":2.0},{"t":"Type 2","x":8.22,"v":1.8},{"t":"Type 2","x":8.17,"v":1.6},{"t":"Type 2","x":8.3,"v":4.9},{"t":"Type 2","x":8.12,"v":3.3},{"t":"Type 2","x":8.25,"v":2.4},{"t":"Type 2","x":8.33,"v":6.0},{"t":"Type 2","x":8.2,"v":7.7},
      {"t":"Type 2","x":8.24,"v":11.5},{"t":"Type 2","x":8.31,"v":10.3},{"t":"Type 2","x":8.17,"v":9.4},{"t":"Type 2","x":8.34,"v":8.6},{"t":"Type 2","x":8.22,"v":8.0},{"t":"Type 2","x":8.28,"v":7.3},{"t":"Type 2","x":8.19,"v":6.6},{"t":"Type 2","x":8.25,"v":6.0},{"t":"Type 2","x":8.31,"v":5.4},{"t":"Type 2","x":8.15,"v":4.8},{"t":"Type 2","x":8.27,"v":4.3},{"t":"Type 2","x":8.21,"v":3.9},{"t":"Type 2","x":8.36,"v":3.4},{"t":"Type 2","x":8.18,"v":3.0},{"t":"Type 2","x":8.23,"v":2.7},{"t":"Type 2","x":8.32,"v":2.2},{"t":"Type 2","x":8.26,"v":1.9},{"t":"Type 2","x":8.2,"v":1.7},
      {"t":"Type 2","x":8.19,"v":0},{"t":"Type 2","x":8.24,"v":0},{"t":"Type 2","x":8.3,"v":0},{"t":"Type 2","x":8.34,"v":0}
    ]
  },
  "layer": [
    {
      "layer": [
        {
          "data": {"name": "box"},
          "mark": {"type": "bar", "width": 20, "fill": "white", "stroke": "black", "strokeWidth": 1.6, "opacity": 1},
          "encoding": {
            "x": {"field": "day", "type": "quantitative", "scale": {"domain": [0.18, 8.82], "nice": false, "zero": false}, "axis": {"values": [1, 2, 3, 4, 5, 6, 7, 8]}, "title": "Day"},
            "y": {"field": "q1", "type": "quantitative", "scale": {"domain": [-1.37, 35.7], "nice": false, "zero": false}, "axis": {"values": [0, 5, 10, 15, 20, 25, 30, 35]}, "title": "# nematocysts per SCA"},
            "y2": {"field": "q3"}
          }
        },
        {
          "data": {"name": "box"},
          "mark": {"type": "rule", "color": "black", "strokeWidth": 1.6, "strokeDash": [7, 4], "opacity": 1},
          "encoding": {
            "x": {"field": "day", "type": "quantitative", "scale": {"domain": [0.18, 8.82], "nice": false, "zero": false}, "title": "Day"},
            "y": {"field": "q3", "type": "quantitative", "scale": {"domain": [-1.37, 35.7], "nice": false, "zero": false}, "title": "# nematocysts per SCA"},
            "y2": {"field": "hi"}
          }
        },
        {
          "data": {"name": "box"},
          "mark": {"type": "rule", "color": "black", "strokeWidth": 1.6, "strokeDash": [7, 4], "opacity": 1},
          "encoding": {
            "x": {"field": "day", "type": "quantitative", "scale": {"domain": [0.18, 8.82], "nice": false, "zero": false}, "title": "Day"},
            "y": {"field": "lo", "type": "quantitative", "scale": {"domain": [-1.37, 35.7], "nice": false, "zero": false}, "title": "# nematocysts per SCA"},
            "y2": {"field": "q1"}
          }
        },
        {
          "data": {"name": "box"},
          "mark": {"type": "tick", "orient": "horizontal", "color": "black", "size": 10, "thickness": 1.7, "opacity": 1},
          "encoding": {
            "x": {"field": "day", "type": "quantitative", "scale": {"domain": [0.18, 8.82], "nice": false, "zero": false}, "title": "Day"},
            "y": {"field": "hi", "type": "quantitative", "scale": {"domain": [-1.37, 35.7], "nice": false, "zero": false}, "title": "# nematocysts per SCA"}
          }
        },
        {
          "data": {"name": "box"},
          "mark": {"type": "tick", "orient": "horizontal", "color": "black", "size": 10, "thickness": 1.7, "opacity": 1},
          "encoding": {
            "x": {"field": "day", "type": "quantitative", "scale": {"domain": [0.18, 8.82], "nice": false, "zero": false}, "title": "Day"},
            "y": {"field": "lo", "type": "quantitative", "scale": {"domain": [-1.37, 35.7], "nice": false, "zero": false}, "title": "# nematocysts per SCA"}
          }
        },
        {
          "data": {"name": "box"},
          "mark": {"type": "tick", "orient": "horizontal", "color": "black", "size": 21, "thickness": 4.8, "opacity": 1},
          "encoding": {
            "x": {"field": "day", "type": "quantitative", "scale": {"domain": [0.18, 8.82], "nice": false, "zero": false}, "title": "Day"},
            "y": {"field": "med", "type": "quantitative", "scale": {"domain": [-1.37, 35.7], "nice": false, "zero": false}, "title": "# nematocysts per SCA"}
          }
        },
        {
          "data": {"name": "pts"},
          "mark": {"type": "point", "filled": false, "strokeWidth": 1.15, "size": 28, "color": "#909090", "opacity": 1},
          "encoding": {
            "x": {"field": "x", "type": "quantitative", "scale": {"domain": [0.18, 8.82], "nice": false, "zero": false}, "title": "Day"},
            "y": {"field": "v", "type": "quantitative", "scale": {"domain": [-1.37, 35.7], "nice": false, "zero": false}, "title": "# nematocysts per SCA"},
            "shape": {
              "field": "t", "type": "nominal",
              "scale": {"domain": ["Type 1", "Type 2"], "range": ["circle", "M-1,-1L1,1M-1,1L1,-1"]},
              "legend": {"title": null, "orient": "none", "legendX": 8, "legendY": 12, "padding": 0, "labelFontSize": 18, "labelColor": "black", "labelFont": "Liberation Sans", "symbolSize": 70, "symbolStrokeColor": "#909090", "symbolStrokeWidth": 1.2, "symbolFillColor": "transparent", "rowPadding": -7, "labelOffset": -1}
            }
          }
        }
      ]
    },
    {
      "data": {"values": [{"f": 0}, {"f": 1}]},
      "mark": {"type": "point", "opacity": 0},
      "encoding": {
        "x": {"field": "f", "type": "quantitative", "scale": {"domain": [0, 1], "range": [-154, 493], "nice": false, "zero": false}, "axis": {"orient": "top", "offset": 20, "domain": true, "domainColor": "#6a6a6a", "domainWidth": 1.5, "ticks": false, "labels": false, "title": null, "grid": false}},
        "y": {"field": "f", "type": "quantitative", "scale": {"domain": [0, 1], "range": [630, -20], "nice": false, "zero": false}, "axis": {"orient": "left", "offset": 154, "domain": true, "domainColor": "#6a6a6a", "domainWidth": 1.5, "ticks": false, "labels": false, "title": null, "grid": false}}
      }
    }
  ],
  "resolve": {"scale": {"x": "independent", "y": "independent"}, "axis": {"x": "independent", "y": "independent"}}
}
